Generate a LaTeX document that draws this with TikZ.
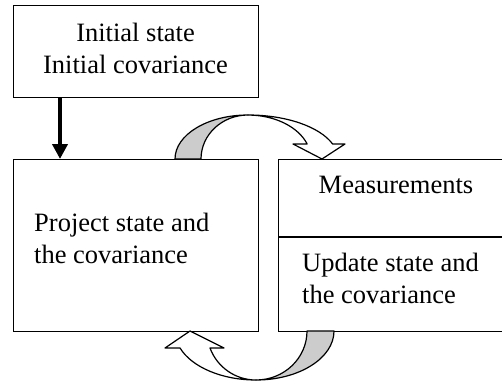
\documentclass[tikz,border=0pt]{standalone}
\usepackage{fontspec}
\setmainfont{Liberation Serif}
\usetikzlibrary{arrows.meta}
\definecolor{ribbon}{HTML}{CCCCCC}
\begin{document}
\begin{tikzpicture}[x=1pt,y=-1pt,
  box/.style={draw, line width=1.4pt, inner sep=0pt, anchor=north west},
  txt/.style={font=\fontsize{26.5}{32}\selectfont, inner sep=0pt},
  feed/.style={line width=4pt, -{Triangle[width=15pt,length=15pt]}},
  loopfront/.style={draw, line width=1.2pt, fill=white, line join=round},
  loopback/.style={draw, line width=1.2pt, fill=ribbon, line join=round}]
\useasboundingbox (0,0) rectangle (502,385);
\clip (0,0) rectangle (502,385);

% boxes
\node[box, minimum width=245pt, minimum height=92pt]  (init) at (13,5) {};
\node[box, minimum width=245pt, minimum height=172pt] (proj) at (13,159) {};
\node[box, minimum width=240pt, minimum height=172pt] (upd)  at (278,159) {};
\coordinate (divL) at ([yshift=-78pt]upd.north west);
\coordinate (divR) at ([yshift=-78pt]upd.north east);
\draw[line width=1.4pt] (divL) -- (divR);

% labels
\node[txt, anchor=base] (i1) at (135.5,42) {Initial state};
\node[txt, anchor=base] (i2) at (135.5,74) {Initial covariance};
\node[txt, anchor=base west] (p1) at (34,231) {Project state and};
\node[txt, anchor=base west] (p2) at (34,263) {the covariance};
\node[txt, anchor=base] (m1) at (396,193) {Measurements};
\node[txt, anchor=base west] (u1) at (302,271) {Update state and};
\node[txt, anchor=base west] (u2) at (302,303) {the covariance};

% start arrow
\draw[feed] ([xshift=47pt]init.south west) -- ([xshift=47pt]proj.north west);

% curved arrow: project -> update
\path[loopback] (175,159) arc[start angle=180, end angle=270, x radius=73, y radius=44]
  arc[start angle=270, end angle=180, x radius=47, y radius=44] -- cycle;
\path[loopfront] (248,115) arc[start angle=270, end angle=340, x radius=90, y radius=44]
  -- (345,144) -- (322,159) -- (293,144) -- (307.2,144)
  arc[start angle=340, end angle=270, x radius=63, y radius=44] -- cycle;

% curved arrow: update -> project
\path[loopback] (334,331) arc[start angle=0, end angle=90, x radius=78, y radius=49]
  arc[start angle=90, end angle=0, x radius=51, y radius=49] -- cycle;
\path[loopfront] (256,380) arc[start angle=90, end angle=159.7, x radius=81, y radius=49]
  -- (165,348) -- (190,331) -- (224,348) -- (210,348)
  arc[start angle=159.7, end angle=90, x radius=49, y radius=49] -- cycle;
\end{tikzpicture}
\end{document}
